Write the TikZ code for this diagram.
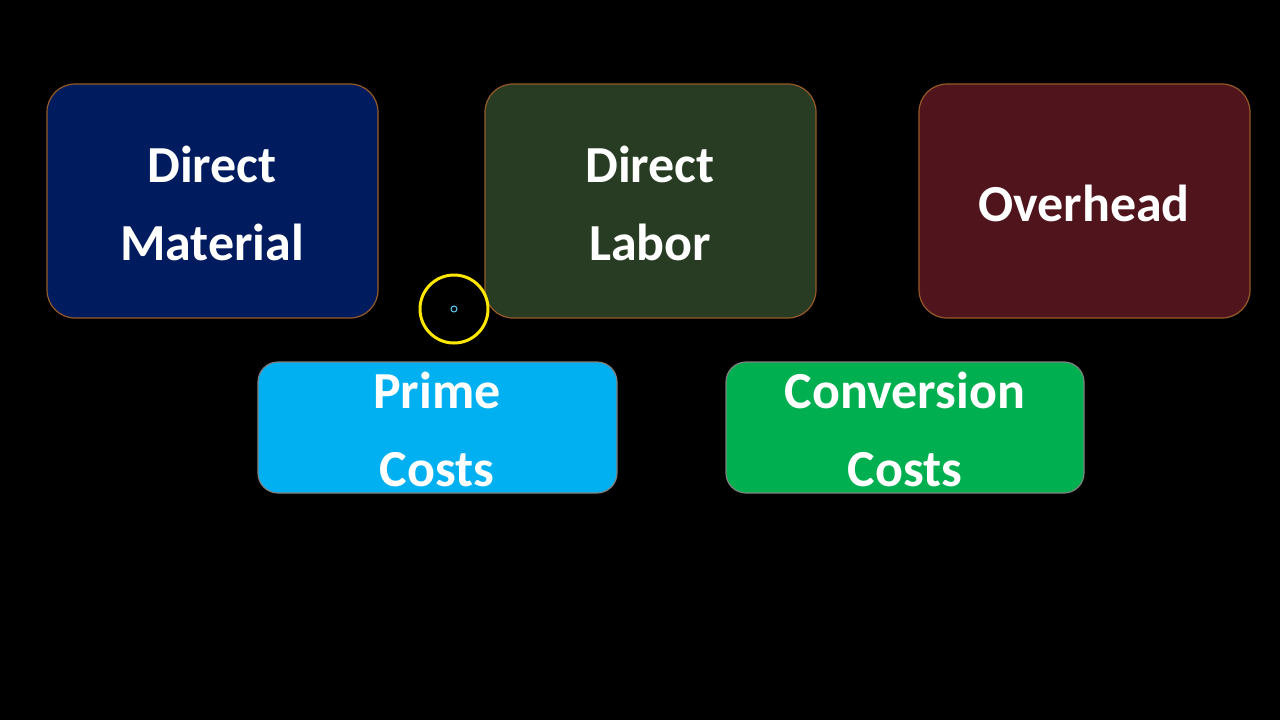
\documentclass[tikz,border=0pt]{standalone}
\usepackage{fontspec}
\setmainfont{Carlito}
\begin{document}
\begin{tikzpicture}[x=0.5pt,y=-0.5pt,
  box/.style={draw=#1,line width=0.6pt,rounded corners=14pt,inner sep=0pt},
  lab/.style={text=white,font=\bfseries\fontsize{26}{39}\selectfont,align=center}]
\fill[black] (0,0) rectangle (1280,720);
\useasboundingbox (0,0) rectangle (1280,720);
\definecolor{dm}{RGB}{0,27,94}
\definecolor{dl}{RGB}{40,60,35}
\definecolor{oh}{RGB}{80,20,28}
\definecolor{pc}{RGB}{0,176,240}
\definecolor{cc}{RGB}{0,176,80}
\definecolor{bd}{RGB}{150,90,40}
\filldraw[fill=dm,box=bd] (47,84) rectangle (378,318);
\filldraw[fill=dl,box=bd] (485,84) rectangle (816,318);
\filldraw[fill=oh,box=bd] (919,84) rectangle (1250,318);
\filldraw[fill=pc,box=gray,rounded corners=10pt] (258,362) rectangle (617,493);
\filldraw[fill=cc,box=gray,rounded corners=10pt] (726,362) rectangle (1084,493);
\node[lab] (dmt) at (212,203) {Direct\\Material};
\node[lab] (dlt) at (650,203) {Direct\\Labor};
\node[lab] (oht) at (1084,203) {Overhead};
\node[lab] (pct) at (437,429) {Prime\\Costs};
\node[lab] (cct) at (905,429) {Conversion\\Costs};
\draw[yellow!90!orange,line width=1.5pt] (454,309) circle (34);
\draw[cyan!60!white,line width=0.5pt] (454,309) circle (3);
\end{tikzpicture}
\end{document}
